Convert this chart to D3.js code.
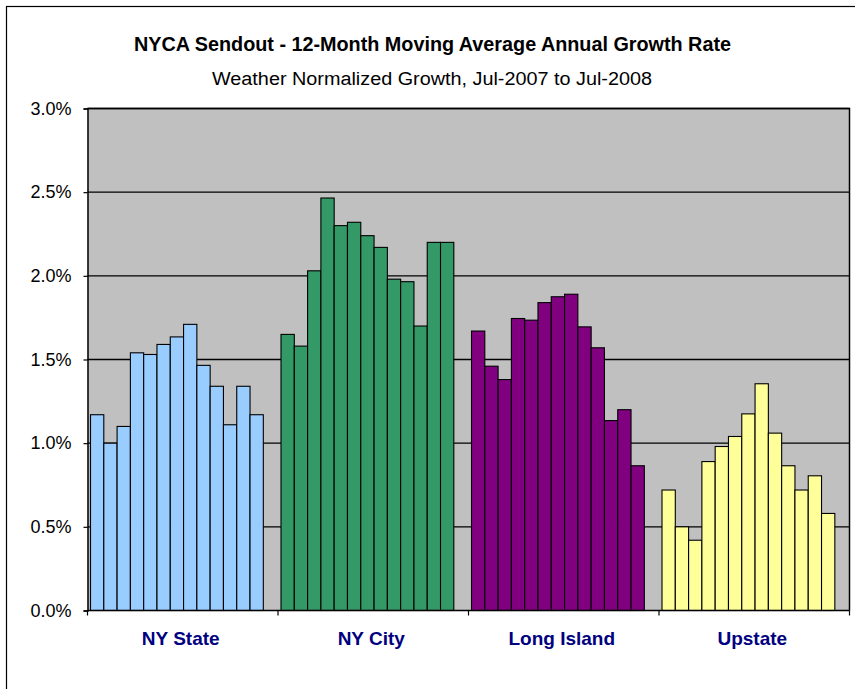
<!DOCTYPE html>
<html>
<head>
<meta charset="utf-8">
<script src="https://cdn.jsdelivr.net/npm/d3@7"></script>
<style>
    body { margin: 0; background: #fff; }
    .chart-title { font-family: "Liberation Sans", Arial, sans-serif; font-weight: bold; }
    .chart-subtitle { font-family: "Liberation Sans", Arial, sans-serif; }
    .axis text { font-family: "Liberation Sans", Arial, sans-serif; }
</style>
</head>
<body>
<div class="growth-chart"></div>
<script>
// regions on the x axis
var regions = ["NY State", "NY City", "Long Island", "Upstate"];
// 12-month moving average, Jul-2007 .. Jul-2008
var months = ["Jul-2007", "Aug-2007", "Sep-2007", "Oct-2007", "Nov-2007", "Dec-2007",
    "Jan-2008", "Feb-2008", "Mar-2008", "Apr-2008", "May-2008", "Jun-2008", "Jul-2008"];
// growth rates in percent, one value per month
var nyState    = [1.17, 1.00, 1.10, 1.54, 1.53, 1.59, 1.635, 1.71, 1.465, 1.34, 1.11, 1.34, 1.17];
var nyCity     = [1.65, 1.58, 2.03, 2.465, 2.30, 2.32, 2.24, 2.17, 1.98, 1.965, 1.70, 2.20, 2.20];
var longIsland = [1.67, 1.46, 1.38, 1.745, 1.735, 1.84, 1.875, 1.89, 1.695, 1.57, 1.135, 1.20, 0.865];
var upstate    = [0.72, 0.50, 0.42, 0.89, 0.98, 1.04, 1.175, 1.355, 1.06, 0.865, 0.72, 0.805, 0.58];
var regionColors = ["#99CCFF", "#339966", "#800080", "#FFFF99"];
var yTicks = [0, 0.5, 1.0, 1.5, 2.0, 2.5, 3.0];

function drawGrowthChart() {

    var margin = {top: 108.5, right: 5.5, bottom: 78.5, left: 87.5},
    width = 855 - margin.left - margin.right,
    height = 689 - margin.top - margin.bottom;

    var data = [nyState, nyCity, longIsland, upstate];

    // scales
    var x = d3.scaleBand().domain(regions).range([0, width]);
    var xMonth = d3.scaleBand().domain(months)
        .range([0, x.bandwidth()])
        .paddingInner(0)
        .paddingOuter(0.665)
        .align(0.17);
    var y = d3.scaleLinear().domain([0, 3]).range([height, 0]);

    var root = d3.select(".growth-chart").append("svg")
        .attr("width", 855)
        .attr("height", 689);

    // outer chart border
    root.append("rect")
        .attr("x", 6.5)
        .attr("y", 6.5)
        .attr("width", 860)
        .attr("height", 700)
        .attr("fill", "#fff")
        .attr("stroke", "#000")
        .attr("stroke-width", 1.2);

    // titles
    root.append("text")
        .attr("class", "chart-title")
        .attr("x", 134)
        .attr("y", 51)
        .attr("font-size", "20px")
        .attr("textLength", 597)
        .attr("lengthAdjust", "spacingAndGlyphs")
        .text("NYCA Sendout - 12-Month Moving Average Annual Growth Rate");
    root.append("text")
        .attr("class", "chart-subtitle")
        .attr("x", 212)
        .attr("y", 85)
        .attr("font-size", "18px")
        .attr("textLength", 440)
        .attr("lengthAdjust", "spacingAndGlyphs")
        .text("Weather Normalized Growth, Jul-2007 to Jul-2008");

    var svg = root.append("g")
        .attr("transform", `translate(${margin.left}, ${margin.top})`);

    // plot background
    svg.append("rect")
        .attr("width", width)
        .attr("height", height)
        .attr("fill", "#C0C0C0");

    // gridlines
    svg.append("g")
        .selectAll("line")
        .data(yTicks.slice(1))
        .enter().append("line")
        .attr("x1", 0)
        .attr("x2", width)
        .attr("y1", function(d) { return y(d); })
        .attr("y2", function(d) { return y(d); })
        .style("stroke", "#000")
        .style("stroke-width", "1.3px");

    // bars
    var groups = svg.selectAll(".region")
        .data(data)
        .enter().append("g")
        .attr("class", "region")
        .attr("transform", function(d, i) { return `translate(${x(regions[i])}, 0)`; });

    groups.each(function(vals, i) {
        d3.select(this).selectAll("rect")
            .data(vals)
            .enter().append("rect")
            .attr("x", function(d, j) { return xMonth(months[j]); })
            .attr("y", function(d) { return y(d); })
            .attr("width", xMonth.bandwidth())
            .attr("height", function(d) { return height - y(d); })
            .attr("fill", regionColors[i])
            .attr("stroke", "#000")
            .attr("stroke-width", 1.1);
    });

    // plot border (top and right)
    svg.append("path")
        .attr("d", `M0,0H${width}V${height}`)
        .attr("fill", "none")
        .attr("stroke", "#000")
        .attr("stroke-width", 1.5);

    // x axis
    var xAxis = svg.append("g")
        .attr("class", "axis")
        .attr("transform", `translate(0, ${height})`);
    xAxis.append("line")
        .attr("x1", 0)
        .attr("x2", width)
        .style("stroke", "#000")
        .style("stroke-width", "1.5px");
    xAxis.selectAll(".cat-tick")
        .data(regions.concat(["end"]))
        .enter().append("line")
        .attr("class", "cat-tick")
        .attr("x1", function(d, i) { return i * x.step(); })
        .attr("x2", function(d, i) { return i * x.step(); })
        .attr("y1", 0)
        .attr("y2", 5)
        .style("stroke", "#000")
        .style("stroke-width", "1.2px");
    xAxis.selectAll(".cat-label")
        .data(regions)
        .enter().append("text")
        .attr("class", "cat-label")
        .attr("x", function(d) { return x(d) + x.bandwidth() / 2 - 2; })
        .attr("y", 34)
        .attr("text-anchor", "middle")
        .attr("fill", "#000080")
        .style("font-size", "19px")
        .style("font-weight", "bold")
        .text(function(d) { return d; });

    // y axis
    var yAxis = svg.append("g")
        .attr("class", "axis")
        .call(d3.axisLeft(y)
            .tickValues(yTicks)
            .tickFormat(function(d) { return d3.format(".1f")(d) + "%"; })
            .tickSize(4)
            .tickPadding(12));
    yAxis.select(".domain")
        .style("stroke", "#000")
        .style("stroke-width", "1.5px");
    yAxis.selectAll(".tick line").style("stroke", "#000").style("stroke-width", "1.2px");
    yAxis.selectAll(".tick text")
        .style("font-size", "18px")
        .style("fill", "#000");
}

drawGrowthChart();
</script>
</body>
</html>
